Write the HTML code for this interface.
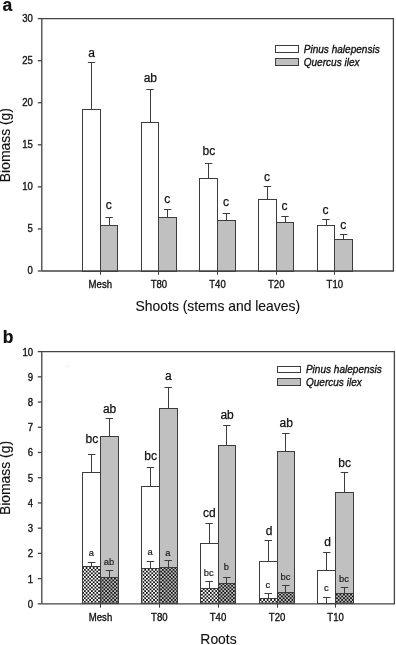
<!DOCTYPE html>
<html><head><meta charset="utf-8"><title>Biomass</title>
<style>html,body{margin:0;padding:0;background:#fff}svg{display:block;font-family:"Liberation Sans",Arial,sans-serif}</style>
</head><body>
<svg width="396" height="645" viewBox="0 0 396 645">
<rect width="396" height="645" fill="#fff"/>
<defs>
<pattern id="chkw" width="3.55" height="3.55" patternUnits="userSpaceOnUse" patternTransform="translate(2.27 0.92)"><rect width="3.55" height="3.55" fill="#fff"/><rect width="1.775" height="1.775" fill="#181818"/><rect x="1.775" y="1.775" width="1.775" height="1.775" fill="#181818"/></pattern>
<pattern id="chkg" width="3.55" height="3.55" patternUnits="userSpaceOnUse" patternTransform="translate(2.27 0.92)"><rect width="3.55" height="3.55" fill="#c0c0c0"/><rect width="1.775" height="1.775" fill="#181818"/><rect x="1.775" y="1.775" width="1.775" height="1.775" fill="#181818"/></pattern>
</defs>
<line x1="91.50" y1="62.70" x2="91.50" y2="109.40" stroke="#3c3c3c" stroke-width="1"/>
<line x1="87.80" y1="62.50" x2="95.20" y2="62.50" stroke="#3c3c3c" stroke-width="1"/>
<line x1="109.50" y1="217.30" x2="109.50" y2="225.60" stroke="#3c3c3c" stroke-width="1"/>
<line x1="105.40" y1="217.50" x2="112.80" y2="217.50" stroke="#3c3c3c" stroke-width="1"/>
<rect x="82.50" y="109.50" width="18.00" height="162.00" fill="#fff" stroke="#3c3c3c" stroke-width="1"/>
<rect x="100.50" y="225.50" width="17.00" height="46.00" fill="#c0c0c0" stroke="#3c3c3c" stroke-width="1"/>
<text transform="translate(91.70 57.30)" font-size="12.0" text-anchor="middle" fill="#111" stroke="#111" stroke-width="0.25" >a</text>
<text transform="translate(108.70 209.40)" font-size="12.0" text-anchor="middle" fill="#111" stroke="#111" stroke-width="0.25" >c</text>
<line x1="100.50" y1="271.00" x2="100.50" y2="274.80" stroke="#3c3c3c" stroke-width="1"/>
<text transform="translate(100.30 288.20) scale(0.95 1)" font-size="10.1" text-anchor="middle" fill="#111" stroke="#111" stroke-width="0.33" >Mesh</text>
<line x1="150.50" y1="89.10" x2="150.50" y2="122.40" stroke="#3c3c3c" stroke-width="1"/>
<line x1="146.40" y1="89.50" x2="153.80" y2="89.50" stroke="#3c3c3c" stroke-width="1"/>
<line x1="167.50" y1="209.10" x2="167.50" y2="217.10" stroke="#3c3c3c" stroke-width="1"/>
<line x1="164.00" y1="209.50" x2="171.40" y2="209.50" stroke="#3c3c3c" stroke-width="1"/>
<rect x="141.50" y="122.50" width="17.00" height="149.00" fill="#fff" stroke="#3c3c3c" stroke-width="1"/>
<rect x="158.50" y="217.50" width="18.00" height="54.00" fill="#c0c0c0" stroke="#3c3c3c" stroke-width="1"/>
<text transform="translate(150.30 82.10)" font-size="12.0" text-anchor="middle" fill="#111" stroke="#111" stroke-width="0.25" >ab</text>
<text transform="translate(167.30 202.70)" font-size="12.0" text-anchor="middle" fill="#111" stroke="#111" stroke-width="0.25" >c</text>
<line x1="158.50" y1="271.00" x2="158.50" y2="274.80" stroke="#3c3c3c" stroke-width="1"/>
<text transform="translate(158.90 288.20) scale(0.95 1)" font-size="10.1" text-anchor="middle" fill="#111" stroke="#111" stroke-width="0.33" >T80</text>
<line x1="208.50" y1="163.90" x2="208.50" y2="178.50" stroke="#3c3c3c" stroke-width="1"/>
<line x1="205.00" y1="163.50" x2="212.40" y2="163.50" stroke="#3c3c3c" stroke-width="1"/>
<line x1="226.50" y1="213.90" x2="226.50" y2="220.00" stroke="#3c3c3c" stroke-width="1"/>
<line x1="222.60" y1="213.50" x2="230.00" y2="213.50" stroke="#3c3c3c" stroke-width="1"/>
<rect x="199.50" y="178.50" width="18.00" height="93.00" fill="#fff" stroke="#3c3c3c" stroke-width="1"/>
<rect x="217.50" y="220.50" width="18.00" height="51.00" fill="#c0c0c0" stroke="#3c3c3c" stroke-width="1"/>
<text transform="translate(208.90 155.20)" font-size="12.0" text-anchor="middle" fill="#111" stroke="#111" stroke-width="0.25" >bc</text>
<text transform="translate(225.90 205.80)" font-size="12.0" text-anchor="middle" fill="#111" stroke="#111" stroke-width="0.25" >c</text>
<line x1="217.50" y1="271.00" x2="217.50" y2="274.80" stroke="#3c3c3c" stroke-width="1"/>
<text transform="translate(217.50 288.20) scale(0.95 1)" font-size="10.1" text-anchor="middle" fill="#111" stroke="#111" stroke-width="0.33" >T40</text>
<line x1="267.50" y1="186.70" x2="267.50" y2="199.10" stroke="#3c3c3c" stroke-width="1"/>
<line x1="263.70" y1="186.50" x2="271.10" y2="186.50" stroke="#3c3c3c" stroke-width="1"/>
<line x1="285.50" y1="216.40" x2="285.50" y2="222.40" stroke="#3c3c3c" stroke-width="1"/>
<line x1="281.30" y1="216.50" x2="288.70" y2="216.50" stroke="#3c3c3c" stroke-width="1"/>
<rect x="258.50" y="199.50" width="18.00" height="72.00" fill="#fff" stroke="#3c3c3c" stroke-width="1"/>
<rect x="276.50" y="222.50" width="17.00" height="49.00" fill="#c0c0c0" stroke="#3c3c3c" stroke-width="1"/>
<text transform="translate(267.00 180.60)" font-size="12.0" text-anchor="middle" fill="#111" stroke="#111" stroke-width="0.25" >c</text>
<text transform="translate(284.60 209.70)" font-size="12.0" text-anchor="middle" fill="#111" stroke="#111" stroke-width="0.25" >c</text>
<line x1="276.50" y1="271.00" x2="276.50" y2="274.80" stroke="#3c3c3c" stroke-width="1"/>
<text transform="translate(276.20 288.20) scale(0.95 1)" font-size="10.1" text-anchor="middle" fill="#111" stroke="#111" stroke-width="0.33" >T20</text>
<line x1="326.50" y1="219.40" x2="326.50" y2="225.20" stroke="#3c3c3c" stroke-width="1"/>
<line x1="322.30" y1="219.50" x2="329.70" y2="219.50" stroke="#3c3c3c" stroke-width="1"/>
<line x1="343.50" y1="234.20" x2="343.50" y2="239.10" stroke="#3c3c3c" stroke-width="1"/>
<line x1="339.90" y1="234.50" x2="347.30" y2="234.50" stroke="#3c3c3c" stroke-width="1"/>
<rect x="317.50" y="225.50" width="17.00" height="46.00" fill="#fff" stroke="#3c3c3c" stroke-width="1"/>
<rect x="334.50" y="239.50" width="18.00" height="32.00" fill="#c0c0c0" stroke="#3c3c3c" stroke-width="1"/>
<text transform="translate(325.60 213.60)" font-size="12.0" text-anchor="middle" fill="#111" stroke="#111" stroke-width="0.25" >c</text>
<text transform="translate(343.20 228.80)" font-size="12.0" text-anchor="middle" fill="#111" stroke="#111" stroke-width="0.25" >c</text>
<line x1="334.50" y1="271.00" x2="334.50" y2="274.80" stroke="#3c3c3c" stroke-width="1"/>
<text transform="translate(334.80 288.20) scale(0.95 1)" font-size="10.1" text-anchor="middle" fill="#111" stroke="#111" stroke-width="0.33" >T10</text>
<path d="M41.80 271.00V18.60H393.40V271.00H41.80" fill="none" stroke="#444" stroke-width="1.3"/>
<line x1="37.80" y1="18.60" x2="41.80" y2="18.60" stroke="#444" stroke-width="1.3"/>
<text transform="translate(32.95 21.90) scale(0.95 1)" font-size="10.1" text-anchor="end" fill="#111" stroke="#111" stroke-width="0.33" >30</text>
<line x1="37.80" y1="60.67" x2="41.80" y2="60.67" stroke="#444" stroke-width="1.3"/>
<text transform="translate(32.95 63.97) scale(0.95 1)" font-size="10.1" text-anchor="end" fill="#111" stroke="#111" stroke-width="0.33" >25</text>
<line x1="37.80" y1="102.73" x2="41.80" y2="102.73" stroke="#444" stroke-width="1.3"/>
<text transform="translate(32.95 106.03) scale(0.95 1)" font-size="10.1" text-anchor="end" fill="#111" stroke="#111" stroke-width="0.33" >20</text>
<line x1="37.80" y1="144.80" x2="41.80" y2="144.80" stroke="#444" stroke-width="1.3"/>
<text transform="translate(32.95 148.10) scale(0.95 1)" font-size="10.1" text-anchor="end" fill="#111" stroke="#111" stroke-width="0.33" >15</text>
<line x1="37.80" y1="186.87" x2="41.80" y2="186.87" stroke="#444" stroke-width="1.3"/>
<text transform="translate(32.95 190.17) scale(0.95 1)" font-size="10.1" text-anchor="end" fill="#111" stroke="#111" stroke-width="0.33" >10</text>
<line x1="37.80" y1="228.93" x2="41.80" y2="228.93" stroke="#444" stroke-width="1.3"/>
<text transform="translate(32.95 232.23) scale(0.95 1)" font-size="10.1" text-anchor="end" fill="#111" stroke="#111" stroke-width="0.33" >5</text>
<line x1="37.80" y1="271.00" x2="41.80" y2="271.00" stroke="#444" stroke-width="1.3"/>
<text transform="translate(32.95 274.30) scale(0.95 1)" font-size="10.1" text-anchor="end" fill="#111" stroke="#111" stroke-width="0.33" >0</text>
<text transform="translate(217.80 311.40)" font-size="13.9" text-anchor="middle" fill="#111" stroke="#111" stroke-width="0.12" >Shoots (stems and leaves)</text>
<text transform="translate(10.20 145.10) rotate(-90)" font-size="13.9" text-anchor="middle" fill="#111" stroke="#111" stroke-width="0.12" >Biomass (g)</text>
<rect x="275.50" y="45.50" width="23.00" height="7.00" fill="#fff" stroke="#3c3c3c" stroke-width="1"/>
<rect x="275.50" y="58.50" width="23.00" height="7.00" fill="#c0c0c0" stroke="#3c3c3c" stroke-width="1"/>
<text transform="translate(303.70 52.80) scale(0.94 1)" font-size="10.7" text-anchor="start" fill="#111" stroke="#111" stroke-width="0.33" font-style="italic">Pinus halepensis</text>
<text transform="translate(303.70 65.90) scale(0.94 1)" font-size="10.7" text-anchor="start" fill="#111" stroke="#111" stroke-width="0.33" font-style="italic">Quercus ilex</text>
<text transform="translate(2.40 11.00) scale(0.93 1)" font-size="18.8" text-anchor="start" fill="#111" stroke="#111" stroke-width="0.25" font-weight="bold">a</text>
<line x1="91.50" y1="454.80" x2="91.50" y2="472.10" stroke="#3c3c3c" stroke-width="1"/>
<line x1="87.95" y1="454.50" x2="95.35" y2="454.50" stroke="#3c3c3c" stroke-width="1"/>
<line x1="109.50" y1="418.50" x2="109.50" y2="436.40" stroke="#3c3c3c" stroke-width="1"/>
<line x1="105.65" y1="418.50" x2="113.05" y2="418.50" stroke="#3c3c3c" stroke-width="1"/>
<rect x="82.50" y="472.50" width="18.00" height="131.00" fill="#fff" stroke="#3c3c3c" stroke-width="1"/>
<rect x="100.50" y="436.50" width="18.00" height="167.00" fill="#c0c0c0" stroke="#3c3c3c" stroke-width="1"/>
<rect x="82.50" y="566.50" width="18.00" height="37.00" fill="url(#chkw)" stroke="#3c3c3c" stroke-width="1"/>
<rect x="100.50" y="577.50" width="18.00" height="26.00" fill="url(#chkg)" stroke="#3c3c3c" stroke-width="1"/>
<line x1="91.50" y1="562.30" x2="91.50" y2="566.80" stroke="#3c3c3c" stroke-width="1"/>
<line x1="87.90" y1="562.50" x2="95.40" y2="562.50" stroke="#3c3c3c" stroke-width="1"/>
<line x1="109.50" y1="570.00" x2="109.50" y2="577.00" stroke="#3c3c3c" stroke-width="1"/>
<line x1="105.60" y1="570.50" x2="113.10" y2="570.50" stroke="#3c3c3c" stroke-width="1"/>
<text transform="translate(91.85 443.30)" font-size="12.0" text-anchor="middle" fill="#111" stroke="#111" stroke-width="0.25" >bc</text>
<text transform="translate(109.55 413.00)" font-size="12.0" text-anchor="middle" fill="#111" stroke="#111" stroke-width="0.25" >ab</text>
<text transform="translate(91.25 555.50)" font-size="9.4" text-anchor="middle" fill="#222" stroke="#222" stroke-width="0.2" >a</text>
<text transform="translate(108.95 564.50)" font-size="9.4" text-anchor="middle" fill="#222" stroke="#222" stroke-width="0.2" >ab</text>
<line x1="100.50" y1="603.85" x2="100.50" y2="607.65" stroke="#3c3c3c" stroke-width="1"/>
<text transform="translate(100.50 621.10) scale(0.95 1)" font-size="10.1" text-anchor="middle" fill="#111" stroke="#111" stroke-width="0.33" >Mesh</text>
<line x1="150.50" y1="467.90" x2="150.50" y2="486.10" stroke="#3c3c3c" stroke-width="1"/>
<line x1="146.75" y1="467.50" x2="154.15" y2="467.50" stroke="#3c3c3c" stroke-width="1"/>
<line x1="168.50" y1="387.60" x2="168.50" y2="408.50" stroke="#3c3c3c" stroke-width="1"/>
<line x1="164.45" y1="387.50" x2="171.85" y2="387.50" stroke="#3c3c3c" stroke-width="1"/>
<rect x="141.50" y="486.50" width="18.00" height="117.00" fill="#fff" stroke="#3c3c3c" stroke-width="1"/>
<rect x="159.50" y="408.50" width="18.00" height="195.00" fill="#c0c0c0" stroke="#3c3c3c" stroke-width="1"/>
<rect x="141.50" y="568.50" width="18.00" height="35.00" fill="url(#chkw)" stroke="#3c3c3c" stroke-width="1"/>
<rect x="159.50" y="567.50" width="18.00" height="36.00" fill="url(#chkg)" stroke="#3c3c3c" stroke-width="1"/>
<line x1="150.50" y1="561.50" x2="150.50" y2="568.20" stroke="#3c3c3c" stroke-width="1"/>
<line x1="146.70" y1="561.50" x2="154.20" y2="561.50" stroke="#3c3c3c" stroke-width="1"/>
<line x1="168.50" y1="560.90" x2="168.50" y2="567.30" stroke="#3c3c3c" stroke-width="1"/>
<line x1="164.40" y1="560.50" x2="171.90" y2="560.50" stroke="#3c3c3c" stroke-width="1"/>
<text transform="translate(150.65 459.70)" font-size="12.0" text-anchor="middle" fill="#111" stroke="#111" stroke-width="0.25" >bc</text>
<text transform="translate(168.35 380.30)" font-size="12.0" text-anchor="middle" fill="#111" stroke="#111" stroke-width="0.25" >a</text>
<text transform="translate(150.05 554.80)" font-size="9.4" text-anchor="middle" fill="#222" stroke="#222" stroke-width="0.2" >a</text>
<text transform="translate(167.75 556.00)" font-size="9.4" text-anchor="middle" fill="#222" stroke="#222" stroke-width="0.2" >a</text>
<line x1="159.50" y1="603.85" x2="159.50" y2="607.65" stroke="#3c3c3c" stroke-width="1"/>
<text transform="translate(159.30 621.10) scale(0.95 1)" font-size="10.1" text-anchor="middle" fill="#111" stroke="#111" stroke-width="0.33" >T80</text>
<line x1="209.50" y1="523.90" x2="209.50" y2="543.90" stroke="#3c3c3c" stroke-width="1"/>
<line x1="205.45" y1="523.50" x2="212.85" y2="523.50" stroke="#3c3c3c" stroke-width="1"/>
<line x1="226.50" y1="425.80" x2="226.50" y2="445.30" stroke="#3c3c3c" stroke-width="1"/>
<line x1="223.15" y1="425.50" x2="230.55" y2="425.50" stroke="#3c3c3c" stroke-width="1"/>
<rect x="200.50" y="543.50" width="18.00" height="60.00" fill="#fff" stroke="#3c3c3c" stroke-width="1"/>
<rect x="218.50" y="445.50" width="17.00" height="158.00" fill="#c0c0c0" stroke="#3c3c3c" stroke-width="1"/>
<rect x="200.50" y="588.50" width="18.00" height="15.00" fill="url(#chkw)" stroke="#3c3c3c" stroke-width="1"/>
<rect x="218.50" y="583.50" width="17.00" height="20.00" fill="url(#chkg)" stroke="#3c3c3c" stroke-width="1"/>
<line x1="209.50" y1="581.80" x2="209.50" y2="588.50" stroke="#3c3c3c" stroke-width="1"/>
<line x1="205.40" y1="581.50" x2="212.90" y2="581.50" stroke="#3c3c3c" stroke-width="1"/>
<line x1="226.50" y1="577.00" x2="226.50" y2="583.90" stroke="#3c3c3c" stroke-width="1"/>
<line x1="223.10" y1="577.50" x2="230.60" y2="577.50" stroke="#3c3c3c" stroke-width="1"/>
<text transform="translate(209.35 516.70)" font-size="12.0" text-anchor="middle" fill="#111" stroke="#111" stroke-width="0.25" >cd</text>
<text transform="translate(227.05 419.00)" font-size="12.0" text-anchor="middle" fill="#111" stroke="#111" stroke-width="0.25" >ab</text>
<text transform="translate(208.75 576.40)" font-size="9.4" text-anchor="middle" fill="#222" stroke="#222" stroke-width="0.2" >bc</text>
<text transform="translate(226.45 570.30)" font-size="9.4" text-anchor="middle" fill="#222" stroke="#222" stroke-width="0.2" >b</text>
<line x1="218.50" y1="603.85" x2="218.50" y2="607.65" stroke="#3c3c3c" stroke-width="1"/>
<text transform="translate(218.00 621.10) scale(0.95 1)" font-size="10.1" text-anchor="middle" fill="#111" stroke="#111" stroke-width="0.33" >T40</text>
<line x1="268.50" y1="540.60" x2="268.50" y2="561.80" stroke="#3c3c3c" stroke-width="1"/>
<line x1="264.55" y1="540.50" x2="271.95" y2="540.50" stroke="#3c3c3c" stroke-width="1"/>
<line x1="285.50" y1="433.60" x2="285.50" y2="451.80" stroke="#3c3c3c" stroke-width="1"/>
<line x1="282.25" y1="433.50" x2="289.65" y2="433.50" stroke="#3c3c3c" stroke-width="1"/>
<rect x="259.50" y="561.50" width="18.00" height="42.00" fill="#fff" stroke="#3c3c3c" stroke-width="1"/>
<rect x="277.50" y="451.50" width="17.00" height="152.00" fill="#c0c0c0" stroke="#3c3c3c" stroke-width="1"/>
<rect x="259.50" y="598.50" width="18.00" height="5.00" fill="url(#chkw)" stroke="#3c3c3c" stroke-width="1"/>
<rect x="277.50" y="592.50" width="17.00" height="11.00" fill="url(#chkg)" stroke="#3c3c3c" stroke-width="1"/>
<line x1="268.50" y1="593.00" x2="268.50" y2="598.50" stroke="#3c3c3c" stroke-width="1"/>
<line x1="264.50" y1="593.50" x2="272.00" y2="593.50" stroke="#3c3c3c" stroke-width="1"/>
<line x1="285.50" y1="585.50" x2="285.50" y2="592.10" stroke="#3c3c3c" stroke-width="1"/>
<line x1="282.20" y1="585.50" x2="289.70" y2="585.50" stroke="#3c3c3c" stroke-width="1"/>
<text transform="translate(269.05 534.80)" font-size="12.0" text-anchor="middle" fill="#111" stroke="#111" stroke-width="0.25" >d</text>
<text transform="translate(286.15 427.30)" font-size="12.0" text-anchor="middle" fill="#111" stroke="#111" stroke-width="0.25" >ab</text>
<text transform="translate(267.85 587.60)" font-size="9.4" text-anchor="middle" fill="#222" stroke="#222" stroke-width="0.2" >c</text>
<text transform="translate(285.55 580.30)" font-size="9.4" text-anchor="middle" fill="#222" stroke="#222" stroke-width="0.2" >bc</text>
<line x1="277.50" y1="603.85" x2="277.50" y2="607.65" stroke="#3c3c3c" stroke-width="1"/>
<text transform="translate(277.10 621.10) scale(0.95 1)" font-size="10.1" text-anchor="middle" fill="#111" stroke="#111" stroke-width="0.33" >T20</text>
<line x1="326.50" y1="552.70" x2="326.50" y2="570.60" stroke="#3c3c3c" stroke-width="1"/>
<line x1="323.05" y1="552.50" x2="330.45" y2="552.50" stroke="#3c3c3c" stroke-width="1"/>
<line x1="344.50" y1="472.40" x2="344.50" y2="492.10" stroke="#3c3c3c" stroke-width="1"/>
<line x1="340.75" y1="472.50" x2="348.15" y2="472.50" stroke="#3c3c3c" stroke-width="1"/>
<rect x="317.50" y="570.50" width="18.00" height="33.00" fill="#fff" stroke="#3c3c3c" stroke-width="1"/>
<rect x="335.50" y="492.50" width="18.00" height="111.00" fill="#c0c0c0" stroke="#3c3c3c" stroke-width="1"/>
<rect x="335.50" y="593.50" width="18.00" height="10.00" fill="url(#chkg)" stroke="#3c3c3c" stroke-width="1"/>
<line x1="326.50" y1="597.00" x2="326.50" y2="603.30" stroke="#3c3c3c" stroke-width="1"/>
<line x1="323.00" y1="597.50" x2="330.50" y2="597.50" stroke="#3c3c3c" stroke-width="1"/>
<line x1="344.50" y1="587.00" x2="344.50" y2="593.60" stroke="#3c3c3c" stroke-width="1"/>
<line x1="340.70" y1="587.50" x2="348.20" y2="587.50" stroke="#3c3c3c" stroke-width="1"/>
<text transform="translate(327.55 546.40)" font-size="12.0" text-anchor="middle" fill="#111" stroke="#111" stroke-width="0.25" >d</text>
<text transform="translate(344.65 467.00)" font-size="12.0" text-anchor="middle" fill="#111" stroke="#111" stroke-width="0.25" >bc</text>
<text transform="translate(326.35 590.90)" font-size="9.4" text-anchor="middle" fill="#222" stroke="#222" stroke-width="0.2" >c</text>
<text transform="translate(344.05 581.80)" font-size="9.4" text-anchor="middle" fill="#222" stroke="#222" stroke-width="0.2" >bc</text>
<line x1="335.50" y1="603.85" x2="335.50" y2="607.65" stroke="#3c3c3c" stroke-width="1"/>
<text transform="translate(335.60 621.10) scale(0.95 1)" font-size="10.1" text-anchor="middle" fill="#111" stroke="#111" stroke-width="0.33" >T10</text>
<path d="M41.80 603.85V351.60H394.40V603.85H41.80" fill="none" stroke="#444" stroke-width="1.3"/>
<line x1="37.80" y1="351.60" x2="41.80" y2="351.60" stroke="#444" stroke-width="1.3"/>
<text transform="translate(33.20 355.50) scale(0.95 1)" font-size="10.1" text-anchor="end" fill="#111" stroke="#111" stroke-width="0.33" >10</text>
<line x1="37.80" y1="376.83" x2="41.80" y2="376.83" stroke="#444" stroke-width="1.3"/>
<text transform="translate(33.20 380.73) scale(0.95 1)" font-size="10.1" text-anchor="end" fill="#111" stroke="#111" stroke-width="0.33" >9</text>
<line x1="37.80" y1="402.05" x2="41.80" y2="402.05" stroke="#444" stroke-width="1.3"/>
<text transform="translate(33.20 405.95) scale(0.95 1)" font-size="10.1" text-anchor="end" fill="#111" stroke="#111" stroke-width="0.33" >8</text>
<line x1="37.80" y1="427.28" x2="41.80" y2="427.28" stroke="#444" stroke-width="1.3"/>
<text transform="translate(33.20 431.18) scale(0.95 1)" font-size="10.1" text-anchor="end" fill="#111" stroke="#111" stroke-width="0.33" >7</text>
<line x1="37.80" y1="452.50" x2="41.80" y2="452.50" stroke="#444" stroke-width="1.3"/>
<text transform="translate(33.20 456.40) scale(0.95 1)" font-size="10.1" text-anchor="end" fill="#111" stroke="#111" stroke-width="0.33" >6</text>
<line x1="37.80" y1="477.73" x2="41.80" y2="477.73" stroke="#444" stroke-width="1.3"/>
<text transform="translate(33.20 481.62) scale(0.95 1)" font-size="10.1" text-anchor="end" fill="#111" stroke="#111" stroke-width="0.33" >5</text>
<line x1="37.80" y1="502.95" x2="41.80" y2="502.95" stroke="#444" stroke-width="1.3"/>
<text transform="translate(33.20 506.85) scale(0.95 1)" font-size="10.1" text-anchor="end" fill="#111" stroke="#111" stroke-width="0.33" >4</text>
<line x1="37.80" y1="528.17" x2="41.80" y2="528.17" stroke="#444" stroke-width="1.3"/>
<text transform="translate(33.20 532.07) scale(0.95 1)" font-size="10.1" text-anchor="end" fill="#111" stroke="#111" stroke-width="0.33" >3</text>
<line x1="37.80" y1="553.40" x2="41.80" y2="553.40" stroke="#444" stroke-width="1.3"/>
<text transform="translate(33.20 557.30) scale(0.95 1)" font-size="10.1" text-anchor="end" fill="#111" stroke="#111" stroke-width="0.33" >2</text>
<line x1="37.80" y1="578.62" x2="41.80" y2="578.62" stroke="#444" stroke-width="1.3"/>
<text transform="translate(33.20 582.52) scale(0.95 1)" font-size="10.1" text-anchor="end" fill="#111" stroke="#111" stroke-width="0.33" >1</text>
<line x1="37.80" y1="603.85" x2="41.80" y2="603.85" stroke="#444" stroke-width="1.3"/>
<text transform="translate(33.20 607.75) scale(0.95 1)" font-size="10.1" text-anchor="end" fill="#111" stroke="#111" stroke-width="0.33" >0</text>
<text transform="translate(218.50 643.50)" font-size="13.9" text-anchor="middle" fill="#111" stroke="#111" stroke-width="0.12" >Roots</text>
<text transform="translate(10.20 478.03) rotate(-90)" font-size="13.9" text-anchor="middle" fill="#111" stroke="#111" stroke-width="0.12" >Biomass (g)</text>
<rect x="277.50" y="366.50" width="23.00" height="6.00" fill="#fff" stroke="#3c3c3c" stroke-width="1"/>
<rect x="277.50" y="378.50" width="23.00" height="7.00" fill="#c0c0c0" stroke="#3c3c3c" stroke-width="1"/>
<text transform="translate(305.90 373.30) scale(0.94 1)" font-size="10.7" text-anchor="start" fill="#111" stroke="#111" stroke-width="0.33" font-style="italic">Pinus halepensis</text>
<text transform="translate(305.90 385.80) scale(0.94 1)" font-size="10.7" text-anchor="start" fill="#111" stroke="#111" stroke-width="0.33" font-style="italic">Quercus ilex</text>
<text transform="translate(2.70 343.30) scale(0.93 1)" font-size="18.8" text-anchor="start" fill="#111" stroke="#111" stroke-width="0.25" font-weight="bold">b</text>
<circle cx="67.2" cy="366.5" r="0.55" fill="#c4c4c4"/>
</svg>
</body></html>
